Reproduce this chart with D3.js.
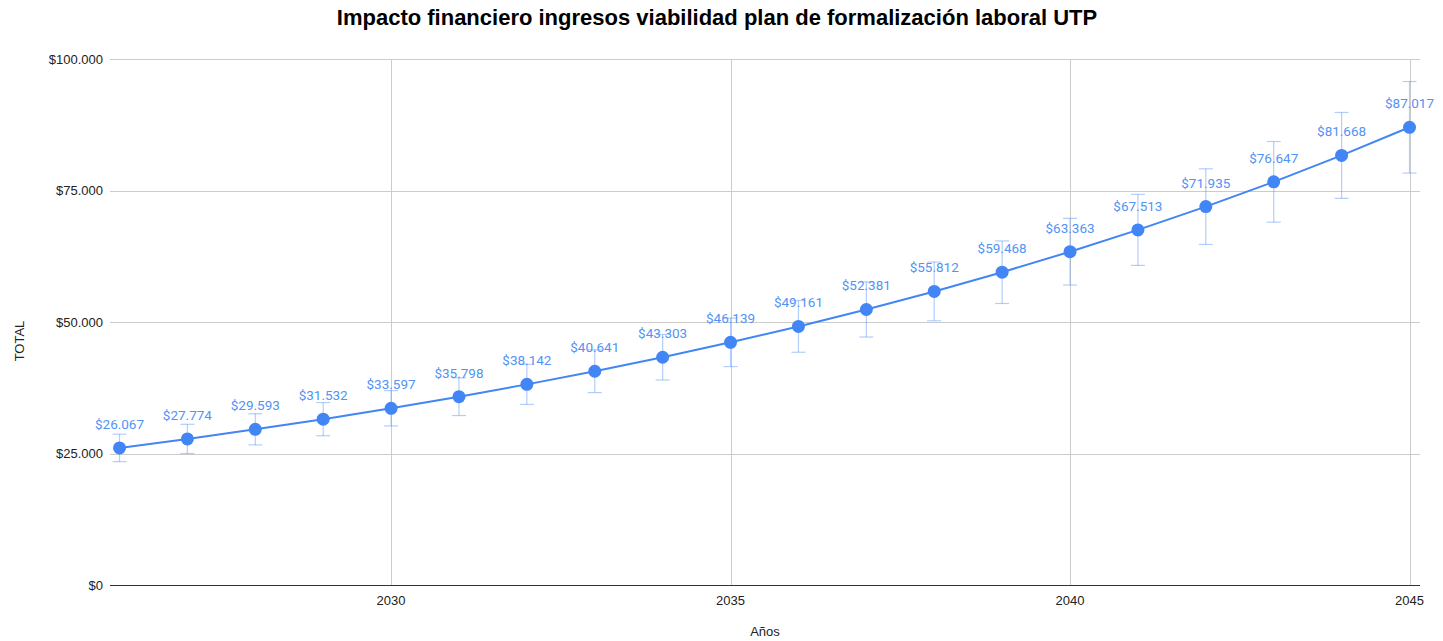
<!DOCTYPE html>
<html>
<head>
<meta charset="utf-8">
<script src="https://cdn.jsdelivr.net/npm/d3@7"></script>
<style>
  html, body { margin: 0; padding: 0; background: #fff; }
  svg { display: block; }
</style>
</head>
<body>
<svg id="chart" width="1443" height="641"></svg>
<script>
// Yearly totals for the formalization plan
const years = [2026, 2027, 2028, 2029, 2030, 2031, 2032, 2033, 2034, 2035,
               2036, 2037, 2038, 2039, 2040, 2041, 2042, 2043, 2044, 2045];
const totals = [26067, 27774, 29593, 31532, 33597, 35798, 38142, 40641, 43303, 46139,
                49161, 52381, 55812, 59468, 63363, 67513, 71935, 76647, 81668, 87017];
// Error bars are a fixed percentage of each value
const errorPercent = 10;
const yTicks = [0, 25000, 50000, 75000, 100000];
const xTicks = [2030, 2035, 2040, 2045];

const title = "Impacto financiero ingresos viabilidad plan de formalización laboral UTP";
const xTitle = "Años";
const yTitle = "TOTAL";

const locale = d3.formatLocale({ decimal: ",", thousands: ".", grouping: [3], currency: ["$", ""] });
const money = locale.format("$,.0f");

const W = 1443, H = 641;
const plot = { left: 110, right: 1420, top: 59, bottom: 585 };
const blue = "#4285f4";
const font = "Liberation Sans, Arial, sans-serif";

const svg = d3.select("#chart");

const x = d3.scaleLinear().domain([2026, 2045]).range([119.5, 1409.5]);
const y = d3.scaleLinear().domain([0, 100000]).range([plot.bottom, plot.top]);

// Horizontal gridlines
svg.append("g")
  .selectAll("line")
  .data(yTicks.filter(d => d > 0))
  .join("line")
  .attr("x1", plot.left).attr("x2", plot.right)
  .attr("y1", d => Math.round(y(d)) + 0.5).attr("y2", d => Math.round(y(d)) + 0.5)
  .attr("stroke", "#cccccc").attr("stroke-width", 1);

// Vertical gridlines
svg.append("g")
  .selectAll("line")
  .data(xTicks)
  .join("line")
  .attr("x1", d => Math.round(x(d)) + 0.5).attr("x2", d => Math.round(x(d)) + 0.5)
  .attr("y1", plot.top).attr("y2", plot.bottom)
  .attr("stroke", "#cccccc").attr("stroke-width", 1);

// Baseline
svg.append("line")
  .attr("x1", plot.left).attr("x2", plot.right)
  .attr("y1", y(0) + 0.5).attr("y2", y(0) + 0.5)
  .attr("stroke", "#333333").attr("stroke-width", 1);

// Y tick labels
svg.append("g")
  .selectAll("text")
  .data(yTicks)
  .join("text")
  .attr("x", 103).attr("y", d => y(d))
  .attr("dy", "0.35em")
  .attr("text-anchor", "end")
  .attr("font-family", font)
  .attr("font-size", 13).attr("fill", "#222")
  .text(d => money(d));

// X tick labels
svg.append("g")
  .selectAll("text")
  .data(xTicks)
  .join("text")
  .attr("x", d => x(d)).attr("y", 605)
  .attr("text-anchor", "middle")
  .attr("font-family", font)
  .attr("font-size", 13).attr("fill", "#222")
  .text(d => d);

// Title
svg.append("text")
  .attr("x", 717).attr("y", 25)
  .attr("text-anchor", "middle")
  .attr("font-family", font)
  .attr("font-size", 22).attr("font-weight", "bold").attr("fill", "#000")
  .text(title);

// Axis titles
svg.append("text")
  .attr("x", 765).attr("y", 636)
  .attr("text-anchor", "middle")
  .attr("font-family", font)
  .attr("font-size", 13).attr("fill", "#222")
  .text(xTitle);

svg.append("text")
  .attr("transform", "translate(24,341) rotate(-90)")
  .attr("text-anchor", "middle")
  .attr("font-family", font)
  .attr("font-size", 13).attr("fill", "#222")
  .text(yTitle);

const data = years.map((yr, i) => ({ year: yr, value: totals[i] }));

// Error bars
const eb = svg.append("g")
  .attr("stroke", blue).attr("stroke-opacity", 0.4).attr("stroke-width", 1.2);
data.forEach(d => {
  const lo = d.value * (1 - errorPercent / 100);
  const hi = d.value * (1 + errorPercent / 100);
  const cx = x(d.year);
  eb.append("line").attr("x1", cx).attr("x2", cx).attr("y1", y(lo)).attr("y2", y(hi));
  eb.append("line").attr("x1", cx - 7).attr("x2", cx + 7).attr("y1", y(lo)).attr("y2", y(lo));
  eb.append("line").attr("x1", cx - 7).attr("x2", cx + 7).attr("y1", y(hi)).attr("y2", y(hi));
});

// Line
svg.append("path")
  .datum(data)
  .attr("fill", "none")
  .attr("stroke", blue).attr("stroke-width", 2)
  .attr("d", d3.line().x(d => x(d.year)).y(d => y(d.value)));

// Points
svg.append("g")
  .selectAll("circle")
  .data(data)
  .join("circle")
  .attr("cx", d => x(d.year)).attr("cy", d => y(d.value))
  .attr("r", 6.5).attr("fill", blue);

// Value labels
svg.append("g")
  .selectAll("text")
  .data(data)
  .join("text")
  .attr("x", d => x(d.year)).attr("y", d => y(d.value) - 19)
  .attr("text-anchor", "middle")
  .attr("font-family", "Roboto, sans-serif")
  .attr("font-size", 13.5).attr("fill", "#5293f5")
  .text(d => money(d.value));
</script>
</body>
</html>
